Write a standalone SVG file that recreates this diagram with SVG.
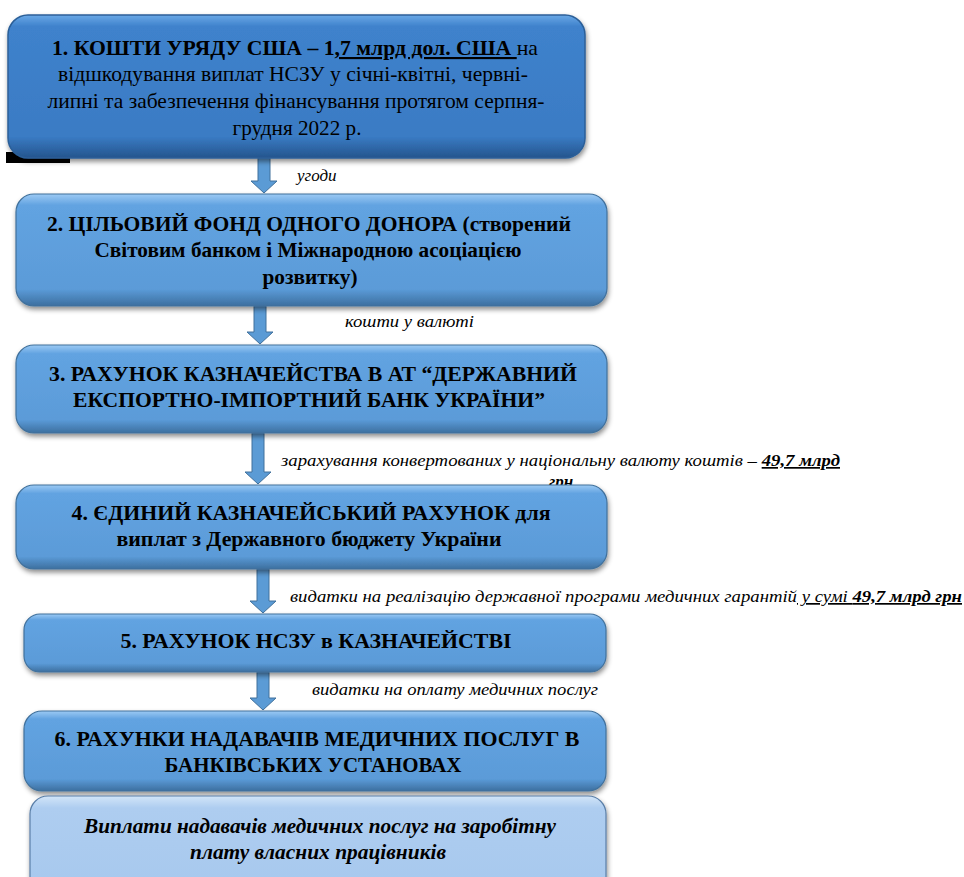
<svg xmlns="http://www.w3.org/2000/svg" width="964" height="877" viewBox="0 0 964 877">
<defs>
<style>
text{font-family:'Liberation Serif','DejaVu Serif',serif}
.t{font-size:21.5px;fill:#000;text-anchor:middle}
.b{font-weight:bold}
.lab{font-size:17px;font-style:italic;fill:#000}
.u{text-decoration:underline}
.arrow{fill:#5b9bd5;stroke:#41719c;stroke-width:1}
</style>
<linearGradient id="g1" x1="0" y1="0" x2="0" y2="1">
<stop offset="0" stop-color="#6aa8e6"/>
<stop offset="0.08" stop-color="#3f82cc"/>
<stop offset="0.85" stop-color="#3a7bc4"/>
<stop offset="1" stop-color="#24558d"/>
</linearGradient>
<linearGradient id="g2" x1="0" y1="0" x2="0" y2="1">
<stop offset="0" stop-color="#9ccaf4"/>
<stop offset="0.1" stop-color="#62a3e1"/>
<stop offset="0.85" stop-color="#5b9bd8"/>
<stop offset="1" stop-color="#3d6f9f"/>
</linearGradient>
<linearGradient id="g3" x1="0" y1="0" x2="0" y2="1">
<stop offset="0" stop-color="#d2e5f8"/>
<stop offset="0.12" stop-color="#aecdf0"/>
<stop offset="0.85" stop-color="#a8c9ee"/>
<stop offset="1" stop-color="#7d9cbf"/>
</linearGradient>
<filter id="sh" x="-5%" y="-10%" width="110%" height="130%">
<feDropShadow dx="1" dy="3" stdDeviation="2.5" flood-color="#000" flood-opacity="0.45"/>
</filter>
</defs>

<rect x="6" y="152" width="64" height="11" fill="#000"/>

<g id="connectors">
<path class="arrow" d="M258 158 H270 V181 H277 L264 193 L251 181 H258 Z"/>
<path class="arrow" d="M254 306 H266 V332 H273 L260 344 L247 332 H254 Z"/>
<path class="arrow" d="M252 433 H264 V472 H271 L258 484 L245 472 H252 Z"/>
<path class="arrow" d="M257 569 H269 V601 H276 L263 613 L250 601 H257 Z"/>
<path class="arrow" d="M257 672 H269 V698 H276 L263 710 L250 698 H257 Z"/>
<text class="lab" x="297" y="181">угоди</text>
<text class="lab" x="345" y="327" textLength="129" lengthAdjust="spacingAndGlyphs">кошти у валюті</text>
<text class="lab" x="281" y="466" textLength="559" lengthAdjust="spacingAndGlyphs">зарахування конвертованих у національну валюту коштів – <tspan class="u" font-weight="bold">49,7 млрд</tspan></text>
<text class="lab" x="549" y="487" font-weight="bold">грн</text>
<text class="lab" x="290" y="602" textLength="672" lengthAdjust="spacingAndGlyphs">видатки на реалізацію державної програми медичних гарантій<tspan class="u"> у сумі <tspan font-weight="bold">49,7 млрд грн</tspan></tspan></text>
<text class="lab" x="312" y="695" textLength="286" lengthAdjust="spacingAndGlyphs">видатки на оплату медичних послуг</text>
</g>

<g id="node1">
<rect x="8" y="15" width="577" height="143" rx="20" fill="url(#g1)" stroke="#2c5f98" stroke-width="1.5" filter="url(#sh)"/>
<text class="t" x="295" y="55" textLength="486" lengthAdjust="spacingAndGlyphs"><tspan class="b">1. КОШТИ УРЯДУ США – 1</tspan><tspan class="b u">,7 млрд дол. США </tspan>на</text>
<text class="t" x="293" y="81" textLength="470" lengthAdjust="spacingAndGlyphs">відшкодування виплат  НСЗУ у січні-квітні, червні-</text>
<text class="t" x="296" y="108" textLength="497" lengthAdjust="spacingAndGlyphs">липні та забезпечення фінансування протягом серпня-</text>
<text class="t" x="297" y="135" textLength="129" lengthAdjust="spacingAndGlyphs">грудня 2022 р.</text>
</g>

<g id="node2">
<rect x="16" y="194" width="591" height="112" rx="18" fill="url(#g2)" stroke="#41719c" stroke-width="1.2" filter="url(#sh)"/>
<text class="t b" x="309" y="231" textLength="524" lengthAdjust="spacingAndGlyphs">2. ЦІЛЬОВИЙ ФОНД ОДНОГО ДОНОРА (створений</text>
<text class="t b" x="308" y="257" textLength="427" lengthAdjust="spacingAndGlyphs">Світовим банком і Міжнародною асоціацією</text>
<text class="t b" x="310" y="284" textLength="95" lengthAdjust="spacingAndGlyphs">розвитку)</text>
</g>

<g id="node3">
<rect x="16" y="345" width="591" height="88" rx="18" fill="url(#g2)" stroke="#41719c" stroke-width="1.2" filter="url(#sh)"/>
<text class="t b" x="313" y="381" textLength="528" lengthAdjust="spacingAndGlyphs">3. РАХУНОК КАЗНАЧЕЙСТВА В АТ “ДЕРЖАВНИЙ</text>
<text class="t b" x="309" y="407" textLength="472" lengthAdjust="spacingAndGlyphs">ЕКСПОРТНО-ІМПОРТНИЙ БАНК УКРАЇНИ”</text>
</g>

<g id="node4">
<rect x="16" y="485" width="591" height="84" rx="18" fill="url(#g2)" stroke="#41719c" stroke-width="1.2" filter="url(#sh)"/>
<text class="t b" x="311" y="520" textLength="479" lengthAdjust="spacingAndGlyphs">4. ЄДИНИЙ КАЗНАЧЕЙСЬКИЙ РАХУНОК для</text>
<text class="t b" x="309" y="546" textLength="385" lengthAdjust="spacingAndGlyphs">виплат з Державного бюджету України</text>
</g>

<g id="node5">
<rect x="24" y="614" width="582" height="58" rx="16" fill="url(#g2)" stroke="#41719c" stroke-width="1.2" filter="url(#sh)"/>
<text class="t b" x="316" y="648" textLength="391" lengthAdjust="spacingAndGlyphs">5. РАХУНОК НСЗУ в КАЗНАЧЕЙСТВІ</text>
</g>

<g id="node6">
<rect x="24" y="711" width="582" height="80" rx="18" fill="url(#g2)" stroke="#41719c" stroke-width="1.2" filter="url(#sh)"/>
<text class="t b" x="317" y="746" textLength="525" lengthAdjust="spacingAndGlyphs">6. РАХУНКИ НАДАВАЧІВ МЕДИЧНИХ ПОСЛУГ В</text>
<text class="t b" x="313" y="772" textLength="297" lengthAdjust="spacingAndGlyphs">БАНКІВСЬКИХ УСТАНОВАХ</text>
</g>

<g id="node7">
<rect x="30" y="796" width="576" height="100" rx="18" fill="url(#g3)" stroke="#5a7fa8" stroke-width="1.2" filter="url(#sh)"/>
<text class="t b" x="320" y="833" font-style="italic" textLength="472" lengthAdjust="spacingAndGlyphs">Виплати надавачів медичних послуг на заробітну</text>
<text class="t b" x="318" y="859" font-style="italic" textLength="256" lengthAdjust="spacingAndGlyphs">плату власних працівників</text>
</g>
</svg>
